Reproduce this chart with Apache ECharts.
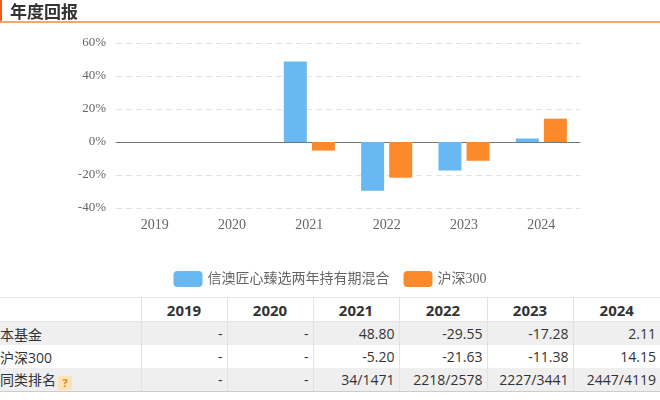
<!DOCTYPE html>
<html>
<head>
<meta charset="utf-8">
<script src="https://cdn.jsdelivr.net/npm/echarts@6/dist/echarts.min.js"></script>
<style>
    body { margin: 0; width: 660px; height: 400px; position: relative; background: #fff; overflow: hidden; }
    #head { position: absolute; left: 0; top: 0; width: 660px; height: 21px; border-bottom: 2px solid #f7a46e; }
    #head .bar { position: absolute; left: 0; top: 0; width: 2px; height: 21px; background: #f25a1c; }
    #head .txt { position: absolute; left: 10px; top: 0; font: bold 17px "Noto Sans CJK SC", sans-serif; color: #333; line-height: 21px; }
    #chart { position: absolute; left: 0; top: 0; width: 660px; height: 296px; }
    table { position: absolute; left: 0; top: 297px; width: 660px; table-layout: fixed; border-collapse: collapse; font-family: "Open Sans", "Noto Sans CJK SC", sans-serif; font-size: 14px; color: #333; }
    td, th { height: 23px; padding: 0 4px 0 0; border-left: 1px solid #e2e2e2; text-align: right; white-space: nowrap; }
    th { font-weight: bold; font-size: 15px; text-align: center; padding: 0; border-top: 1px solid #e6e6e6; border-bottom: 1px solid #e6e6e6; }
    td:first-child, th:first-child { border-left: none; text-align: left; padding-left: 0; }
    tr.g td { background: #efefef; }
    tr:last-child td { border-bottom: 1px solid #ccc; }
    .q { display: inline-block; width: 14px; height: 14px; line-height: 14px; background: #fde3b5; color: #e8871e; font-size: 11px; font-weight: bold; text-align: center; vertical-align: -2px; margin-left: 2px; }
</style>
</head>
<body>
<div id="chart"></div>
<div id="head"><div class="bar"></div><div class="txt">年度回报</div></div>
<table id="tbl"></table>
<script>
const years = ['2019', '2020', '2021', '2022', '2023', '2024'];
const fundName = '信澳匠心臻选两年持有期混合';
const indexName = '沪深300';
const fundReturns = [null, null, 48.80, -29.55, -17.28, 2.11];
const indexReturns = [null, null, -5.20, -21.63, -11.38, 14.15];
const ranks = ['-', '-', '34/1471', '2218/2578', '2227/3441', '2447/4119'];

let chart = echarts.init(document.getElementById('chart'));
let option = {
    animation: false,
    grid: { left: 116, right: 80, top: 43, height: 165 },
    legend: {
        top: 266,
        itemWidth: 29,
        itemHeight: 16,
        itemGap: 14,
        textStyle: { fontSize: 14, color: '#666', fontFamily: 'Liberation Serif, Noto Sans CJK SC' },
        data: [fundName, indexName]
    },
    xAxis: {
        type: 'category',
        data: years,
        position: 'bottom',
        axisLine: { onZero: true, lineStyle: { color: '#777' } },
        axisTick: { lineStyle: { color: '#777' } },
        axisLabel: { color: '#666', fontSize: 14, fontFamily: 'Liberation Serif', margin: 10 }
    },
    yAxis: {
        type: 'value',
        min: -40,
        max: 60,
        interval: 20,
        axisLine: { show: false },
        axisTick: { show: false },
        axisLabel: { formatter: '{value}%', color: '#666', fontSize: 13, fontFamily: 'Liberation Serif', margin: 10 },
        splitLine: { lineStyle: { color: '#e3e3e3', type: [6, 4] } }
    },
    series: [
        { name: fundName, type: 'bar', data: fundReturns, barWidth: 23, barGap: '22%', itemStyle: { color: '#67b8f3' } },
        { name: indexName, type: 'bar', data: indexReturns, barWidth: 23, itemStyle: { color: '#fd8a2a' } }
    ]
};
chart.setOption(option);

// table below the chart
function fmt(v) { return v === null ? '-' : v.toFixed(2); }
let rows = [
    ['本基金', fundReturns.map(fmt), 'g'],
    ['沪深300', indexReturns.map(fmt), ''],
    ['同类排名<span class="q">?</span>', ranks, 'g']
];
const colW = [141, 86, 86, 86, 88, 86, 87];
let html = '<colgroup>' + colW.map(w => `<col style="width:${w}px">`).join('') + '</colgroup>';
html += '<tr><th></th>' + years.map(y => `<th>${y}</th>`).join('') + '</tr>';
rows.forEach(r => {
    html += `<tr class="${r[2]}"><td>${r[0]}</td>` + r[1].map(v => `<td>${v}</td>`).join('') + '</tr>';
});
document.getElementById('tbl').innerHTML = html;
</script>
</body>
</html>
